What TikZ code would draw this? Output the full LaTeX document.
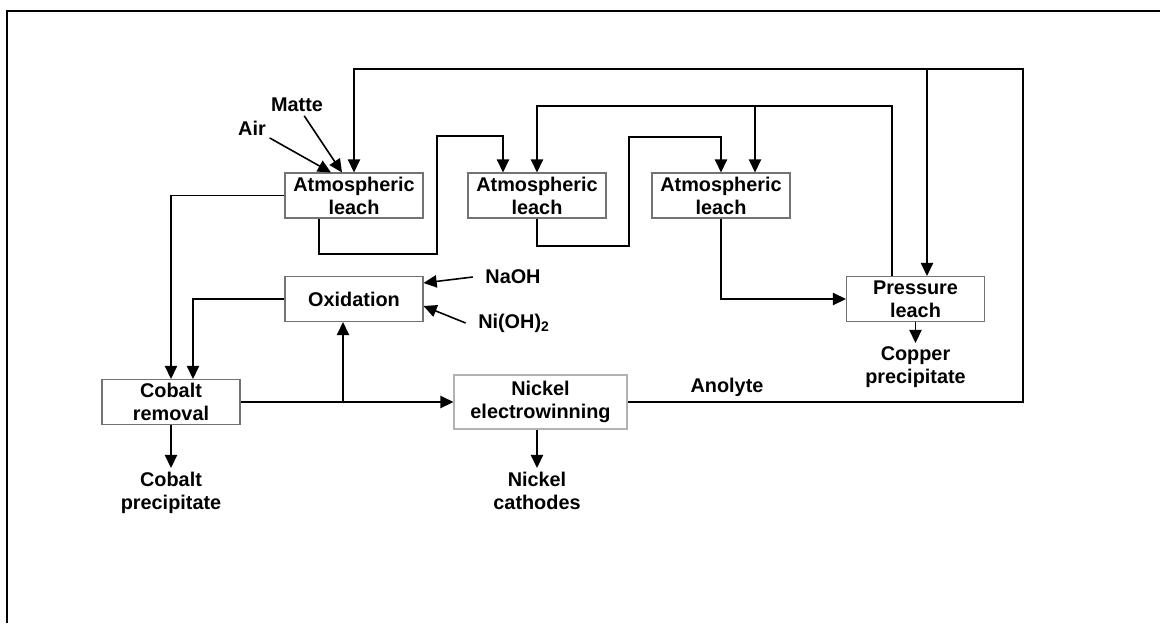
\documentclass[tikz,border=0pt]{standalone}
\usepackage{fontspec}
\setmainfont{Liberation Sans}
\usetikzlibrary{calc,arrows.meta}

\begin{document}
\begin{tikzpicture}[x=0.02cm,y=-0.02cm,
  box/.style={draw=black!55,line width=0.6pt,align=center,minimum width=2.76cm,minimum height=0.9cm,inner sep=1pt},
  lbl/.style={align=center,inner sep=2pt},
  flow/.style={line width=0.9pt,-{Triangle[length=7.5pt,width=7pt]}},
  font=\fontsize{11.3}{13.2}\selectfont\bfseries]
  \useasboundingbox (0,0) rectangle (1160,623);
  % ramecek
  \draw[line width=1.1pt] (7,623) -- (7,11) -- (1160,11);
  % jednotky
  \foreach \n/\x in {1/354,2/537,3/721} {\node[box] (al\n) at (\x,195.5) {Atmospheric\\leach};}
  \node[box] (ox) at (354,299) {Oxidation};
  \node[box] (pl) at (915.5,299) {Pressure\\leach};
  \node[box] (co) at (171,402) {Cobalt\\removal};
  \node[box,draw=black!30,minimum width=3.46cm,minimum height=1.08cm] (new) at (540.5,402) {Nickel\\electrowinning};
  % vstupy a produkty
  \node[lbl] (air) at (252,128) {Air};
  \node[lbl] (matte) at (297,105) {Matte};
  \node[lbl,inner sep=7pt] (naoh) at (513,277) {NaOH};
  \node[lbl,inner sep=7pt] (nioh) at (514,323) {Ni(OH)\textsubscript{2}};
  \node[lbl,anchor=north] (cop) at (171,468) {Cobalt\\precipitate};
  \node[lbl,anchor=north] (nic) at (537,468) {Nickel\\cathodes};
  \node[lbl,anchor=north] (cu) at (915.5,343) {Copper\\precipitate};
  \node[lbl] (anol) at (727,387) {Anolyte};
  % anolyt zpet na louzeni
  \coordinate (t1) at (1023,69);
  \draw[flow] (new.east) -| (t1) -| (al1.north);
  \coordinate (t2) at (927,69);
  \draw[flow] (t2) -- (t2 |- pl.north);
  % z tlakoveho louzeni zpet
  \coordinate (t3) at (892,106);
  \draw[flow] (pl.north -| t3) -- (t3) -| (al2.north);
  \coordinate (t4) at (755,106);
  \draw[flow] (t4) -- (t4 |- al3.north);
  % mezi stupni
  \coordinate (b1) at (319,254); \coordinate (b2) at (437,136); \coordinate (b3) at (503,136);
  \draw[flow] (al1.south -| b1) |- (b2 |- b1) |- (b3) -- (b3 |- al2.north);
  \coordinate (d1) at (629,246); \coordinate (d2) at (629,137);
  \draw[flow] (al2.south) |- (d1) -- (d2) -| (al3.north);
  \draw[flow] (al3.south) |- (pl.west);
  \draw[flow] (pl.south) -- (cu.north);
  % kobalt
  \draw[flow] (al1.west) -| (co.north);
  \coordinate (e1) at (193,300);
  \draw[flow] (ox.west) -| (e1 |- co.north);
  \draw[flow] (co.east) -- (new.west);
  \coordinate (f1) at (343,402);
  \draw[flow] (f1) -- (f1 |- ox.south);
  \draw[flow] (co.south) -- (cop.north);
  \draw[flow] (new.south -| nic.north) -- (nic.north);
  % cinidla
  \draw[flow] (naoh.west) -- ($(ox.east)+(0,-16)$);
  \draw[flow] (nioh.west) -- ($(ox.east)+(0,7)$);
  \draw[flow] (air) -- ($(al1.north)+(-23,0)$);
  \draw[flow] (matte) -- ($(al1.north)+(-12,0)$);
\end{tikzpicture}
\end{document}
